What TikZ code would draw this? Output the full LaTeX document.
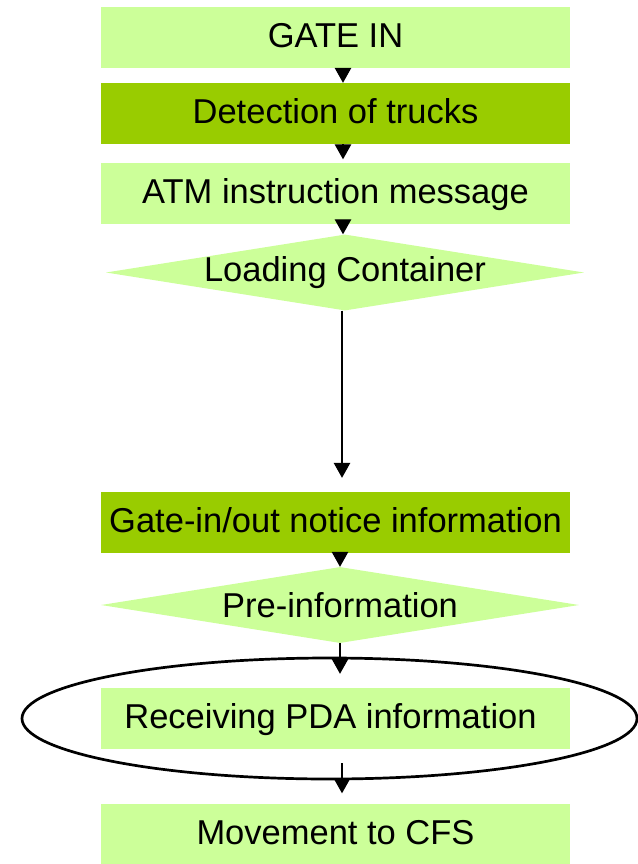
\documentclass[tikz,border=0pt]{standalone}
\usepackage{fontspec}
\setmainfont{Liberation Sans}
\usetikzlibrary{shapes.geometric,arrows.meta}
\definecolor{lightg}{HTML}{CCFF99}
\definecolor{darkg}{HTML}{99CC00}
\begin{document}
\begin{tikzpicture}[x=1pt,y=-1pt,
  every node/.style={font=\fontsize{34.5}{40}\selectfont},
  box/.style={rectangle,fill=lightg,minimum width=469pt,minimum height=61pt,inner sep=0pt,text height=25pt,text depth=5pt},
  dbox/.style={box,fill=darkg},
  dia/.style={diamond,fill=lightg,inner sep=0pt,aspect=6.4,minimum width=478pt,minimum height=76pt},
  arr/.style={line width=1.3pt,-{Triangle[width=16.5pt,length=15pt]}}]
\useasboundingbox (0,0) rectangle (637,864);

\node[box]  (gate) at (335.5,37.5) {GATE IN};
\node[dbox] (det)  at (335.5,113.5) {Detection of trucks};
\node[box]  (atm)  at (335.5,193) {ATM instruction message};
\node[dia]  (load) at (345,272.5) {};
\node (loadtxt) at (load.center) {Loading Container};
\node[dbox] (gio)  at (335.5,522.5) {Gate-in/out notice information};
\node[dia]  (pre)  at (340,605) {};
\node (pretxt) at (pre.center) {Pre-information};
\node[ellipse,draw,line width=2.7pt,minimum width=615pt,minimum height=121pt,inner sep=0pt] (ell) at (329.5,718.5) {};
\node[box]  (rec)  at (335.5,718.5) {};
\node[text height=25pt,text depth=5pt,inner sep=0pt] (rectxt) at ([xshift=-5pt]rec.center) {Receiving PDA information};
\node[box]  (cfs)  at (335.5,834) {Movement to CFS};

\draw[arr] ([xshift=7.5pt]gate.south) -- ([xshift=7.5pt]det.north);
\draw[arr] ([xshift=7.5pt]det.south) -- ([xshift=7.5pt,yshift=3pt]atm.north);
\draw[arr] ([xshift=7.5pt]atm.south) -- ([xshift=-2pt]load.north);
\draw[arr,shorten >=14pt] ([xshift=-3pt]load.south) -- ([xshift=6.5pt]gio.north);
\draw[arr] ([xshift=4.5pt]gio.south) -- (pre.north);
\draw[arr,shorten >=14pt] (pre.south) -- ([xshift=4.5pt]rec.north);
\draw[arr,shorten <=14pt,shorten >=10pt] ([xshift=6.5pt]rec.south) -- ([xshift=6.5pt]cfs.north);
\end{tikzpicture}
\end{document}
